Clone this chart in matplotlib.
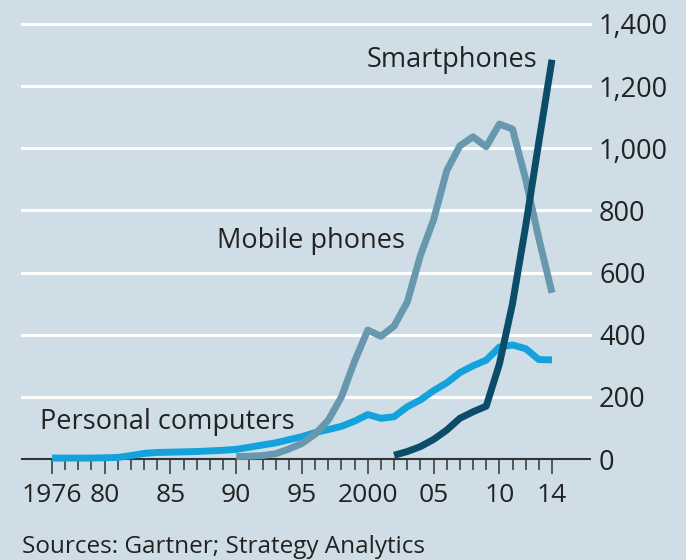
import matplotlib
matplotlib.use("Agg")
import matplotlib.pyplot as plt
from matplotlib.ticker import FixedLocator, FuncFormatter

plt.rcParams['font.family'] = ['Open Sans', 'DejaVu Sans']

# ---- data (millions of units sold) ----
pc_years = list(range(1976, 2015))
pc_values = [3, 3, 3, 3, 4, 5, 11, 18, 21, 22, 23, 24, 26, 28, 31,
             38, 45, 52, 62, 72, 85, 95, 105, 122, 143, 131, 136, 168,
             190, 220, 245, 278, 300, 318, 360, 367, 355, 320, 319]

mobile_years = list(range(1990, 2015))
mobile_values = [8, 9, 11, 17, 32, 50, 80, 125, 200, 315, 415, 395, 428,
                 505, 655, 770, 928, 1008, 1037, 1005, 1078, 1062, 900,
                 710, 535]

smart_years = list(range(2002, 2015))
smart_values = [12, 24, 40, 63, 93, 131, 152, 170, 305, 500, 750, 1020, 1285]

yticks = [0, 200, 400, 600, 800, 1000, 1200, 1400]
xtick_years = [1976, 1980, 1985, 1990, 1995, 2000, 2005, 2010, 2014]
xtick_labels = ["1976", "80", "85", "90", "95", "2000", "05", "10", "14"]

bg = "#cfdee6"
c_pc = "#14a2dc"
c_mobile = "#6898ae"
c_smart = "#0b4c68"
c_text = "#222222"

fig = plt.figure(figsize=(6.86, 5.6), dpi=100, facecolor=bg)
ax = fig.add_axes([22/686, (560-459)/560, 568/686, 435/560], facecolor=bg)

ax.set_xlim(1976 - 30/13.15, 2014 + 38/13.15)
ax.set_ylim(0, 1400)

# gridlines
for v in yticks[1:]:
    ax.axhline(v, color="white", lw=2.2, zorder=1, clip_on=False)
ax.axhline(0, color="#333333", lw=1.5, zorder=2, clip_on=False)

lw = 5.0
ax.plot(pc_years, pc_values, color=c_pc, lw=lw, zorder=3, clip_on=False,
        solid_joinstyle="round", solid_capstyle="butt")
ax.plot(mobile_years, mobile_values, color=c_mobile, lw=lw, zorder=4, clip_on=False,
        solid_joinstyle="round", solid_capstyle="butt")
ax.plot(smart_years, smart_values, color=c_smart, lw=lw, zorder=5, clip_on=False,
        solid_joinstyle="round", solid_capstyle="butt")

for s in ax.spines.values():
    s.set_visible(False)

# x ticks
ax.xaxis.set_major_locator(FixedLocator(xtick_years))
ax.set_xticklabels(xtick_labels)
ax.xaxis.set_minor_locator(FixedLocator(pc_years))
ax.tick_params(axis="x", which="major", length=10.5, width=1.1, color="#333333",
               pad=6.5, labelsize=19, labelcolor=c_text)
ax.tick_params(axis="x", which="minor", length=8, width=1.1, color="#333333")

# y ticks on right
ax.yaxis.tick_right()
ax.set_yticks(yticks)
ax.yaxis.set_major_formatter(FuncFormatter(lambda v, p: f"{int(v):,}"))
ax.tick_params(axis="y", length=0, pad=6.5, labelsize=19.5, labelcolor=c_text)
for lab in ax.get_yticklabels():
    lab.set_horizontalalignment("left")

# labels
ax.text(2012.88, 1262, "Smartphones", ha="right", va="baseline",
        fontsize=19.5, color=c_text, zorder=6)
ax.text(1988.52, 678, "Mobile phones", ha="left", va="baseline",
        fontsize=19.5, color=c_text, zorder=6)
ax.text(1975.09, 95, "Personal computers", ha="left", va="baseline",
        fontsize=19.5, color=c_text, zorder=6)

fig.text(22/686, 1 - 553/560, "Sources: Gartner; Strategy Analytics",
         ha="left", va="baseline", fontsize=17.5, color=c_text)

fig.savefig("out.png", dpi=100, facecolor=bg)
